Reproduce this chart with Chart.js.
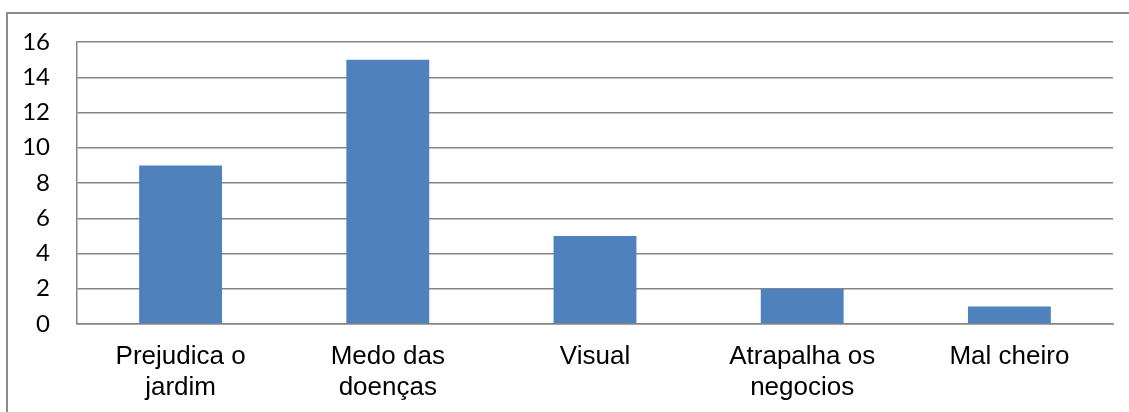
<!DOCTYPE html>
<html>
<head>
<meta charset="utf-8">
<script src="https://cdn.jsdelivr.net/npm/chart.js@4/dist/chart.umd.min.js"></script>
<style>
	body { margin: 0; background: #fff; overflow: hidden; }
	#frame {
		position: absolute; left: 6px; top: 12px; width: 1200px; height: 500px;
		border-left: 2px solid #8c8c8c; border-top: 2px solid #8c8c8c;
	}
	#wrap { position: absolute; left: 0; top: 0; width: 1129px; height: 412px; }
</style>
</head>
<body>
<div id="frame"></div>
<div id="wrap"><canvas id="barChart" width="1129" height="412"></canvas></div>
<script>
var categories = [["Prejudica o", "jardim"], ["Medo das", "doenças"], "Visual", ["Atrapalha os", "negocios"], "Mal cheiro"];
var answers = [9, 15, 5, 2, 1];
var yTicks = [0, 2, 4, 6, 8, 10, 12, 14, 16];

var ctx = document.getElementById("barChart");

// axis sizes fixed so the plot sits at 77..1113 x 42..324
var chart = new Chart(ctx, {
	type: "bar",
	data: {
		labels: categories,
		datasets: [{
			label: "Respostas",
			data: answers,
			backgroundColor: "#4f81bd",
			borderWidth: 0,
			barPercentage: 0.4,
			categoryPercentage: 1
		}]
	},
	options: {
		responsive: false,
		animation: false,
		layout: { padding: { top: 42, right: 16, left: 0, bottom: 0 } },
		plugins: {
			legend: { display: false },
			tooltip: { enabled: false }
		},
		scales: {
			x: {
				grid: { display: false, drawTicks: false },
				border: { color: "#868686", width: 1.5 },
				ticks: {
					color: "#000",
					padding: 17,
					maxRotation: 0,
					autoSkip: false,
					font: { family: "'Liberation Sans', Arial, sans-serif", size: 26, lineHeight: 1.2 }
				},
				afterFit: function (scale) { scale.height = 88; }
			},
			y: {
				min: 0,
				max: 16,
				afterBuildTicks: function (scale) {
					scale.ticks = yTicks.map(function (v) { return { value: v }; });
				},
				grid: { color: "#868686", lineWidth: 1.5, drawTicks: false },
				border: { color: "#868686", width: 1.5 },
				ticks: {
					color: "#000",
					padding: 27,
					font: { family: "Lato, sans-serif", size: 24 }
				},
				afterFit: function (scale) { scale.width = 77; }
			}
		}
	}
});
</script>
</body>
</html>
